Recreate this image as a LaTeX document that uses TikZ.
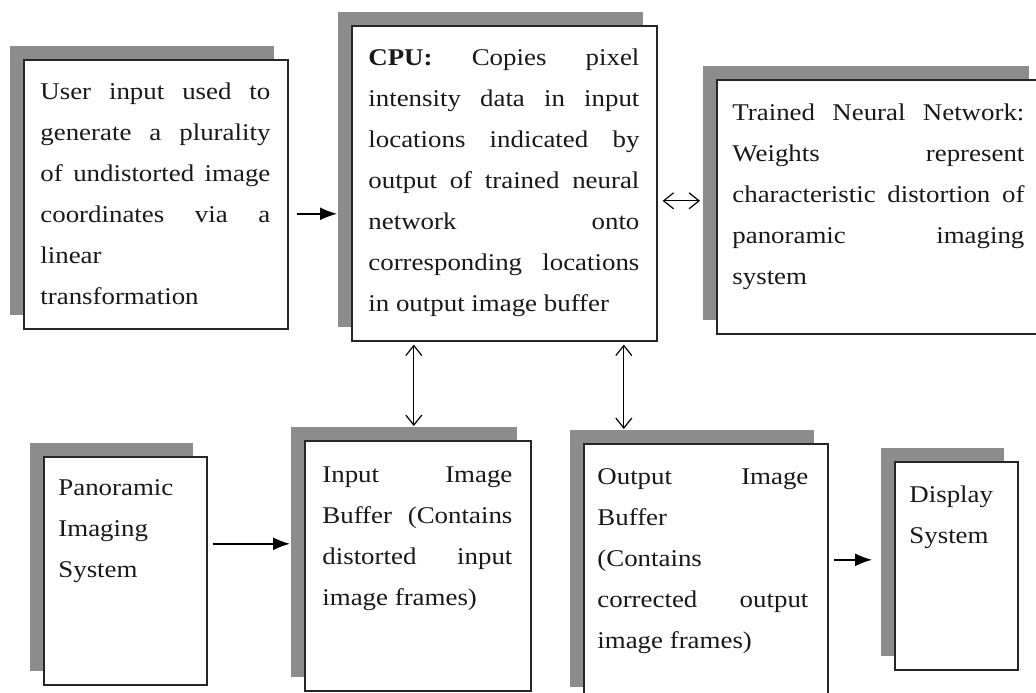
\documentclass[tikz,border=0pt]{standalone}
\usepackage{fontspec}
\setmainfont{Liberation Serif}[FakeStretch=1.12]
\usetikzlibrary{positioning,shadows,arrows.meta}
\tikzset{
  mybox/.style={
    draw=black!85, fill=white, rectangle, line width=0.8pt, anchor=north west,
    drop shadow={shadow xshift=-7pt, shadow yshift=7pt, opacity=1, fill=black!45}
  },
  mytext/.style={
    anchor=base west, inner sep=0mm, align=justify, text=black!90,
    font=\fontsize{12}{20.5}\selectfont
  },
  myarrow/.style={-{Latex[length=8.5pt,width=6.5pt]}, line width=0.7pt},
  dblarrow/.style={{Straight Barb[length=5pt,width=8pt]}-{Straight Barb[length=5pt,width=8pt]}, line width=0.6pt}
}

\begin{document}
\begin{tikzpicture}[x=0.5pt, y=-0.5pt]
   \useasboundingbox (0, 0) rectangle (1036, 692);

   \node[mybox, minimum width=132pt, minimum height=134.5pt] (user) at (23, 59) {};
   \node[mybox, minimum width=152.5pt, minimum height=157.5pt] (cpu) at (351, 25) {};
   \node[mybox, minimum width=163pt, minimum height=127pt] (nn) at (716, 79) {};
   \node[mybox, minimum width=81.5pt, minimum height=114pt] (pan) at (43, 456) {};
   \node[mybox, minimum width=113pt, minimum height=125pt] (inbuf) at (304, 440) {};
   \node[mybox, minimum width=122pt, minimum height=128.5pt] (outbuf) at (583, 443) {};
   \node[mybox, minimum width=61.5pt, minimum height=104pt] (disp) at (894, 461) {};

   \node[mytext, text width=115pt] (usertxt) at ([shift={(8.5pt,-20pt)}]user.north west)
      {User input used to\linebreak generate a plurality\linebreak of undistorted image\linebreak
       coordinates via a\linebreak linear\\ transformation};
   \node[mytext, text width=135.5pt] (cputxt) at ([shift={(8.5pt,-20pt)}]cpu.north west)
      {\textbf{CPU:} Copies pixel\linebreak intensity data in input\linebreak locations indicated by\linebreak
       output of trained neural\linebreak network onto\linebreak corresponding locations\linebreak
       in output image buffer};
   \node[mytext, text width=146pt] (nntxt) at ([shift={(8pt,-20.5pt)}]nn.north west)
      {Trained Neural Network:\linebreak Weights represent\linebreak characteristic distortion of\linebreak
       panoramic imaging\linebreak system};
   \node[mytext, text width=70pt] (pantxt) at ([shift={(7.5pt,-19.5pt)}]pan.north west)
      {Panoramic\\ Imaging\\ System};
   \node[mytext, text width=95pt] (inbuftxt) at ([shift={(9pt,-21pt)}]inbuf.north west)
      {Input Image\linebreak Buffer (Contains\linebreak distorted input\linebreak image frames)};
   \node[mytext, text width=105.5pt] (outbuftxt) at ([shift={(7pt,-20.5pt)}]outbuf.north west)
      {Output Image\linebreak Buffer\\ (Contains\\ corrected output\linebreak image frames)};
   \node[mytext, text width=50pt] (disptxt) at ([shift={(7.5pt,-20.5pt)}]disp.north west)
      {Display\\ System};

   \draw[myarrow] ([xshift=4pt, yshift=-9.75pt]user.east) -- ([xshift=-7pt, yshift=-9.75pt]cpu.west |- user.east);
   \draw[dblarrow] ([xshift=2.5pt, yshift=-8.75pt]cpu.east) -- ([xshift=-8pt, yshift=-8.75pt]nn.west |- cpu.east);
   \draw[dblarrow] ([xshift=-2pt, yshift=-1.5pt]inbuf.north |- cpu.south) -- ([xshift=-2pt, yshift=7pt]inbuf.north);
   \draw[dblarrow] ([xshift=-41pt, yshift=-1.5pt]outbuf.north |- cpu.south) -- ([xshift=-41pt, yshift=7pt]outbuf.north);
   \draw[myarrow] ([xshift=2.5pt, yshift=13.5pt]pan.east) -- ([xshift=-7pt, yshift=13.5pt]inbuf.west |- pan.east);
   \draw[myarrow] ([xshift=2.5pt, yshift=6.25pt]outbuf.east) -- ([xshift=-11pt, yshift=6.25pt]disp.west |- outbuf.east);
\end{tikzpicture}
\end{document}
